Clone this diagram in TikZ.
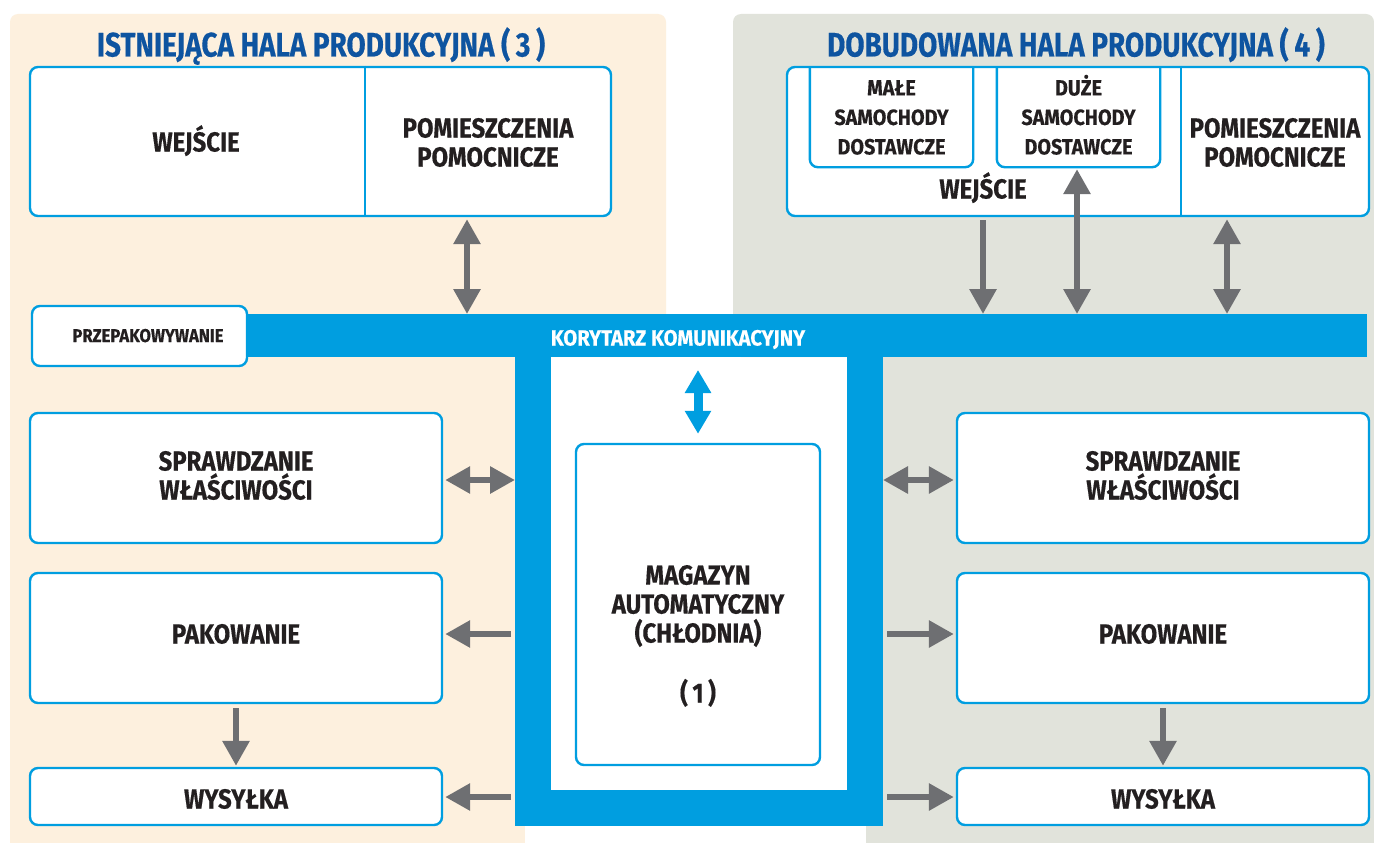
\documentclass[tikz,border=0pt]{standalone}
\usepackage{fontspec}
\setmainfont{Fira Sans}[FakeStretch=0.87,FakeBold=0.4]
\newfontfamily\titlef{Fira Sans}[FakeStretch=0.82,FakeBold=0.4]
\newfontfamily\smallf{Fira Sans}[FakeStretch=0.9,FakeBold=0.4]
\newfontfamily\corrf{Fira Sans}[FakeStretch=0.92,FakeBold=0.3]
\usetikzlibrary{arrows.meta}
\definecolor{beige}{RGB}{253,240,222}
\definecolor{grayb}{RGB}{225,227,219}
\definecolor{cblue}{RGB}{0,158,224}
\definecolor{tblue}{RGB}{14,84,160}
\definecolor{agray}{RGB}{110,111,114}
\definecolor{txt}{RGB}{35,31,32}
\tikzset{
  boxline/.style={draw=cblue, line width=2.4pt},
  box/.style={boxline, fill=white, rounded corners=8pt, inner sep=0pt},
  lbl/.style={text=txt, font=\bfseries\fontsize{27.5}{29}\selectfont, align=center, inner sep=0pt},
  small/.style={text=txt, font=\smallf\bfseries\fontsize{22}{29.5}\selectfont, align=center, inner sep=0pt},
  tiny/.style={text=txt, font=\smallf\bfseries\fontsize{18.5}{20}\selectfont, inner sep=0pt},
  corrtxt/.style={text=white, font=\corrf\bfseries\fontsize{22}{24}\selectfont, inner sep=0pt},
  ttl/.style={text=tblue, font=\titlef\bfseries\fontsize{34}{36}\selectfont, inner sep=0pt},
  bar/.style={fill=cblue, inner sep=0pt, outer sep=0pt},
  garr/.style={draw=agray, line width=6pt, >={Triangle[width=26pt,length=25pt]}},
  barr/.style={draw=cblue, line width=9pt, >={Triangle[width=25pt,length=23pt]}},
}
\begin{document}
\begin{tikzpicture}[x=1pt,y=-1pt]
\useasboundingbox (0,0) rectangle (1374,843);
\fill[white] (0,0) rectangle (1374,843);
% backgrounds
\fill[beige, rounded corners=8pt] (10,14) rectangle (666,357);
\fill[beige] (10,40) rectangle (666,357);
\fill[beige] (10,340) rectangle (525,843);
\fill[grayb, rounded corners=8pt] (733,14) rectangle (1374,357);
\fill[grayb] (733,40) rectangle (1374,357);
\fill[grayb] (866,340) rectangle (1374,843);

% titles
\node[ttl, anchor=base] (t3) at (321,56.5) {ISTNIEJĄCA HALA PRODUKCYJNA (\,3\,)};
\node[ttl, anchor=base] (t4) at (1076,56.5) {DOBUDOWANA HALA PRODUKCYJNA (\,4\,)};

% top boxes
\node[box, minimum width=581pt, minimum height=149pt] (topL) at (320.5,141.5) {};
\coordinate (dL) at (365,0);
\draw[boxline] (topL.north -| dL) -- (topL.south -| dL);
\node[lbl, anchor=base] (wejL) at (196,151.5) {WEJŚCIE};
\node[lbl] (pomL) at (488,142.5) {POMIESZCZENIA\\POMOCNICZE};

\node[box, minimum width=582pt, minimum height=149pt] (topR) at (1078,141.5) {};
\coordinate (dR) at (1181,0);
\draw[boxline] (topR.north -| dR) -- (topR.south -| dR);
\node[lbl] (pomR) at (1275,142.5) {POMIESZCZENIA\\POMOCNICZE};
\node[lbl, anchor=base] (wejR) at (983,198.5) {WEJŚCIE};
\node[small, minimum width=163pt, minimum height=99pt] (male) at (891.5,117.5) {MAŁE\\SAMOCHODY\\DOSTAWCZE};
\draw[boxline, rounded corners=8pt] (male.north west) -- (male.south west) -- (male.south east) -- (male.north east);
\node[small, minimum width=163pt, minimum height=99pt] (duze) at (1078.5,117.5) {DU\smash{Ż}E\\SAMOCHODY\\DOSTAWCZE};
\draw[boxline, rounded corners=8pt] (duze.north west) -- (duze.south west) -- (duze.south east) -- (duze.north east);

% corridor and U
\node[bar, minimum width=1335pt, minimum height=43pt] (corr) at (699.5,335.5) {};
\node[corrtxt, anchor=base] (corrl) at (678,345.5) {KORYTARZ KOMUNIKACYJNY};
\node[box, minimum width=215pt, minimum height=60pt] (przep) at (139.5,336) {};
\node[tiny, anchor=base] (przepl) at (148,342) {PRZEPAKOWYWANIE};
\node[bar, minimum width=36pt, minimum height=469pt] (Ul) at (533,591.5) {};
\node[bar, minimum width=36pt, minimum height=469pt] (Ur) at (865,591.5) {};
\node[bar, minimum width=368pt, minimum height=36pt] (Ub) at (699,808) {};

% magazyn
\node[box, minimum width=244pt, minimum height=321pt] (mag) at (698,604.5) {};
\node[lbl] (magl) at (698,606) {MAGAZYN\\AUTOMATYCZNY\\(CHŁODNIA)};
\node[lbl, anchor=base] (magn) at (698,702.5) {(\,1\,)};

% left boxes
\node[box, minimum width=412pt, minimum height=130pt] (sprL) at (236,478) {};
\node[lbl] at (236,475.5) {SPRAWDZANIE\\WŁAŚCIWOŚCI};
\node[box, minimum width=412pt, minimum height=130pt] (pakL) at (236,638) {};
\node[lbl, anchor=base] at (236,643.5) {PAKOWANIE};
\node[box, minimum width=412pt, minimum height=57pt] (wysL) at (236,796.5) {};
\node[lbl, anchor=base] at (236,808.5) {WYSYŁKA};

% right boxes
\node[box, minimum width=412pt, minimum height=130pt] (sprR) at (1163,478) {};
\node[lbl] at (1163,475.5) {SPRAWDZANIE\\WŁAŚCIWOŚCI};
\node[box, minimum width=412pt, minimum height=130pt] (pakR) at (1163,638) {};
\node[lbl, anchor=base] at (1163,643.5) {PAKOWANIE};
\node[box, minimum width=412pt, minimum height=57pt] (wysR) at (1163,796.5) {};
\node[lbl, anchor=base] at (1163,808.5) {WYSYŁKA};

% arrows top
\coordinate (c467) at (467,0);
\coordinate (c983) at (983,0);
\coordinate (c1077) at (1077,0);
\coordinate (c1227) at (1227,0);
\draw[garr,<->,shorten <=2pt] (topL.south -| c467) -- (corr.north -| c467);
\draw[garr,->,shorten <=3pt] (topR.south -| c983) -- (corr.north -| c983);
\draw[garr,<->,shorten >=2pt] (corr.north -| c1077) -- (duze.south -| c1077);
\draw[garr,<->,shorten <=2pt] (topR.south -| c1227) -- (corr.north -| c1227);

% blue arrow
\draw[barr,<->,shorten <=13pt,shorten >=9pt] (corr.south -| mag.north) -- (mag.north);

% side arrows
\coordinate (r480) at (0,480);
\coordinate (r634) at (0,634);
\coordinate (r797) at (0,797);
\draw[garr,<->,shorten <=2pt] (sprL.east |- r480) -- (Ul.west |- r480);
\draw[garr,->,shorten <=4pt,shorten >=2pt] (Ul.west |- r634) -- (pakL.east |- r634);
\draw[garr,->,shorten <=4pt,shorten >=2pt] (Ul.west |- r797) -- (wysL.east |- r797);
\draw[garr,<->,shorten >=2pt] (Ur.east |- r480) -- (sprR.west |- r480);
\draw[garr,->,shorten <=4pt,shorten >=2pt] (Ur.east |- r634) -- (pakR.west |- r634);
\draw[garr,->,shorten <=4pt,shorten >=2pt] (Ur.east |- r797) -- (wysR.west |- r797);
\draw[garr,->,shorten <=4pt,shorten >=1pt] (pakL.south) -- (wysL.north);
\draw[garr,->,shorten <=4pt,shorten >=1pt] (pakR.south) -- (wysR.north);
\end{tikzpicture}
\end{document}
